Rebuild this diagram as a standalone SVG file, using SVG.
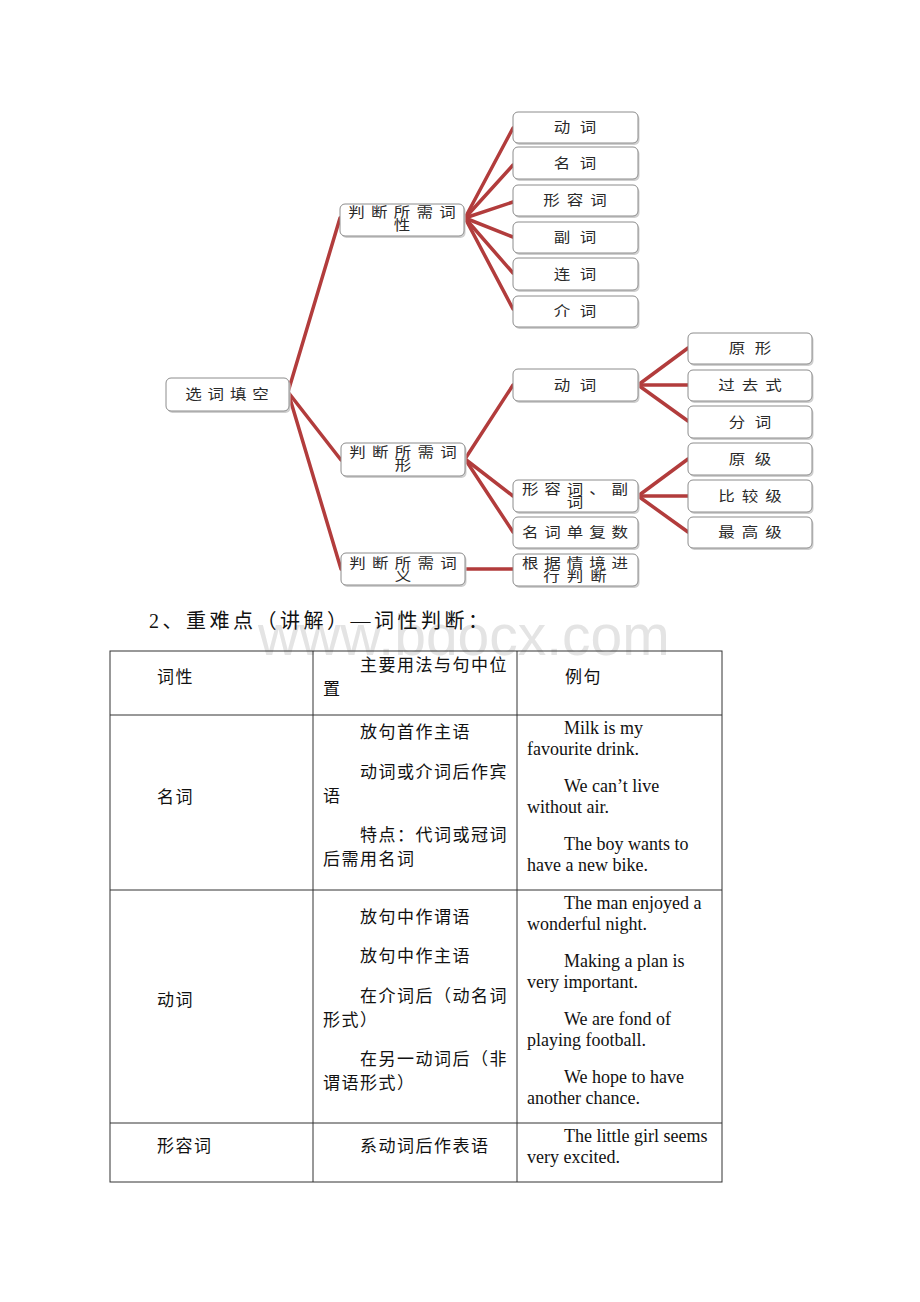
<svg xmlns="http://www.w3.org/2000/svg" width="920" height="1302" viewBox="0 0 920 1302">
<style>
.box{fill:#fff;stroke:#8c8c8c;stroke-width:1}
.sh{fill:#cfcfcf}
.mt{font-family:"Noto Sans CJK SC",sans-serif;font-size:14px;fill:#2a2a2a;text-anchor:middle}
.con{stroke:#b23c3c;stroke-width:3.5;fill:none;stroke-linecap:round}
.tl{stroke:#333;stroke-width:1;fill:none}
.tt{font-family:"Liberation Serif","Noto Sans CJK SC",serif;font-size:17px;letter-spacing:1.5px;fill:#111}
.en{font-family:"Liberation Serif",serif;font-size:18px;fill:#111}
</style>
<rect x="0" y="0" width="920" height="1302" fill="#fff"/>

<g id="connectors">
<line class="con" x1="288" y1="392" x2="340" y2="218"/>
<line class="con" x1="288" y1="392" x2="341" y2="460"/>
<line class="con" x1="288" y1="392" x2="341" y2="569"/>
<line class="con" x1="465" y1="218" x2="513" y2="128"/>
<line class="con" x1="465" y1="218" x2="513" y2="165"/>
<line class="con" x1="465" y1="218" x2="513" y2="202"/>
<line class="con" x1="465" y1="218" x2="513" y2="237"/>
<line class="con" x1="465" y1="218" x2="513" y2="273"/>
<line class="con" x1="465" y1="218" x2="513" y2="309"/>
<line class="con" x1="465" y1="459" x2="513" y2="385"/>
<line class="con" x1="465" y1="459" x2="513" y2="496"/>
<line class="con" x1="465" y1="459" x2="513" y2="532"/>
<line class="con" x1="465" y1="569" x2="513" y2="569"/>
<line class="con" x1="638" y1="385" x2="688" y2="348"/>
<line class="con" x1="638" y1="385" x2="688" y2="385"/>
<line class="con" x1="638" y1="385" x2="688" y2="421"/>
<line class="con" x1="638" y1="496" x2="688" y2="459"/>
<line class="con" x1="638" y1="496" x2="688" y2="496"/>
<line class="con" x1="638" y1="496" x2="688" y2="532"/>
</g>

<g id="n-root"><rect class="sh" x="167.5" y="380" width="123" height="33" rx="5"/><rect class="box" x="166" y="378" width="123" height="33" rx="5"/><text class="mt" transform="translate(227 399) scale(1.18 1)" textLength="71" lengthAdjust="spacing">选词填空</text></g>

<g id="n-cixing"><rect class="sh" x="341.5" y="206" width="124" height="32" rx="5"/><rect class="box" x="340" y="204" width="124" height="32" rx="5"/><text class="mt" transform="translate(402 217) scale(1.18 1)"><tspan x="0" y="0" textLength="91" lengthAdjust="spacing">判断所需词</tspan><tspan x="0" y="13">性</tspan></text></g>
<g id="n-cixing2"><rect class="sh" x="342.5" y="445" width="124" height="33" rx="5"/><rect class="box" x="341" y="443" width="124" height="33" rx="5"/><text class="mt" transform="translate(403 457) scale(1.18 1)"><tspan x="0" y="0" textLength="91" lengthAdjust="spacing">判断所需词</tspan><tspan x="0" y="13">形</tspan></text></g>
<g id="n-ciyi"><rect class="sh" x="342.5" y="555" width="124" height="32" rx="5"/><rect class="box" x="341" y="553" width="124" height="32" rx="5"/><text class="mt" transform="translate(403 568) scale(1.18 1)"><tspan x="0" y="0" textLength="91" lengthAdjust="spacing">判断所需词</tspan><tspan x="0" y="13">义</tspan></text></g>

<g id="n-dongci"><rect class="sh" x="514.5" y="114" width="125" height="31" rx="5"/><rect class="box" x="513" y="112" width="125" height="31" rx="5"/><text class="mt" transform="translate(575 132) scale(1.18 1)" textLength="36" lengthAdjust="spacing">动词</text></g>
<g id="n-mingci"><rect class="sh" x="514.5" y="149" width="125" height="32" rx="5"/><rect class="box" x="513" y="147" width="125" height="32" rx="5"/><text class="mt" transform="translate(575 168) scale(1.18 1)" textLength="36" lengthAdjust="spacing">名词</text></g>
<g id="n-xingrongci"><rect class="sh" x="514.5" y="187" width="125" height="31" rx="5"/><rect class="box" x="513" y="185" width="125" height="31" rx="5"/><text class="mt" transform="translate(575 205) scale(1.18 1)" textLength="54" lengthAdjust="spacing">形容词</text></g>
<g id="n-fuci"><rect class="sh" x="514.5" y="224" width="125" height="31" rx="5"/><rect class="box" x="513" y="222" width="125" height="31" rx="5"/><text class="mt" transform="translate(575 242) scale(1.18 1)" textLength="36" lengthAdjust="spacing">副词</text></g>
<g id="n-lianci"><rect class="sh" x="514.5" y="260" width="125" height="32" rx="5"/><rect class="box" x="513" y="258" width="125" height="32" rx="5"/><text class="mt" transform="translate(575 279) scale(1.18 1)" textLength="36" lengthAdjust="spacing">连词</text></g>
<g id="n-jieci"><rect class="sh" x="514.5" y="298" width="125" height="31" rx="5"/><rect class="box" x="513" y="296" width="125" height="31" rx="5"/><text class="mt" transform="translate(575 316) scale(1.18 1)" textLength="36" lengthAdjust="spacing">介词</text></g>

<g id="n-dongci2"><rect class="sh" x="514.5" y="371" width="125" height="32" rx="5"/><rect class="box" x="513" y="369" width="125" height="32" rx="5"/><text class="mt" transform="translate(575 390) scale(1.18 1)" textLength="36" lengthAdjust="spacing">动词</text></g>
<g id="n-xrcfc"><rect class="sh" x="514.5" y="482" width="125" height="32" rx="5"/><rect class="box" x="513" y="480" width="125" height="32" rx="5"/><text class="mt" transform="translate(575 494) scale(1.18 1)"><tspan x="0" y="0" textLength="90" lengthAdjust="spacing">形容词、副</tspan><tspan x="0" y="13">词</tspan></text></g>
<g id="n-mcdfs"><rect class="sh" x="514.5" y="519" width="125" height="31" rx="5"/><rect class="box" x="513" y="517" width="125" height="31" rx="5"/><text class="mt" transform="translate(575 537) scale(1.18 1)" textLength="90" lengthAdjust="spacing">名词单复数</text></g>
<g id="n-gjqj"><rect class="sh" x="514.5" y="556" width="125" height="32" rx="5"/><rect class="box" x="513" y="554" width="125" height="32" rx="5"/><text class="mt" transform="translate(575 568) scale(1.18 1)"><tspan x="0" y="0" textLength="90" lengthAdjust="spacing">根据情境进</tspan><tspan x="0" y="13" textLength="54" lengthAdjust="spacing">行判断</tspan></text></g>

<g id="n-yuanxing"><rect class="sh" x="689.5" y="335" width="124" height="31" rx="5"/><rect class="box" x="688" y="333" width="124" height="31" rx="5"/><text class="mt" transform="translate(750 353) scale(1.18 1)" textLength="36" lengthAdjust="spacing">原形</text></g>
<g id="n-guoqushi"><rect class="sh" x="689.5" y="372" width="124" height="31" rx="5"/><rect class="box" x="688" y="370" width="124" height="31" rx="5"/><text class="mt" transform="translate(750 390) scale(1.18 1)" textLength="54" lengthAdjust="spacing">过去式</text></g>
<g id="n-fenci"><rect class="sh" x="689.5" y="408" width="124" height="32" rx="5"/><rect class="box" x="688" y="406" width="124" height="32" rx="5"/><text class="mt" transform="translate(750 427) scale(1.18 1)" textLength="36" lengthAdjust="spacing">分词</text></g>
<g id="n-yuanji"><rect class="sh" x="689.5" y="445" width="124" height="32" rx="5"/><rect class="box" x="688" y="443" width="124" height="32" rx="5"/><text class="mt" transform="translate(750 464) scale(1.18 1)" textLength="36" lengthAdjust="spacing">原级</text></g>
<g id="n-bijiaoji"><rect class="sh" x="689.5" y="482" width="124" height="32" rx="5"/><rect class="box" x="688" y="480" width="124" height="32" rx="5"/><text class="mt" transform="translate(750 501) scale(1.18 1)" textLength="54" lengthAdjust="spacing">比较级</text></g>
<g id="n-zuigaoji"><rect class="sh" x="689.5" y="519" width="124" height="31" rx="5"/><rect class="box" x="688" y="517" width="124" height="31" rx="5"/><text class="mt" transform="translate(750 537) scale(1.18 1)" textLength="54" lengthAdjust="spacing">最高级</text></g>

<text x="258" y="655" font-family="Liberation Sans, sans-serif" font-size="57" fill="#e4e4e4">www.bdocx.com</text>

<g id="heading"><text x="149" y="628" font-family="Liberation Serif, 'Noto Sans CJK SC', serif" font-size="20" letter-spacing="3.5" fill="#111">2、重难点（讲解）—词性判断：</text></g>

<g id="table">
<rect class="tl" x="110" y="651" width="612" height="531"/>
<line class="tl" x1="313" y1="651" x2="313" y2="1182"/>
<line class="tl" x1="517" y1="651" x2="517" y2="1182"/>
<line class="tl" x1="110" y1="715" x2="722" y2="715"/>
<line class="tl" x1="110" y1="890" x2="722" y2="890"/>
<line class="tl" x1="110" y1="1123" x2="722" y2="1123"/>

<text class="tt" x="157" y="683">词性</text>
<text class="tt" x="360" y="671">主要用法与句中位</text>
<text class="tt" x="323" y="695">置</text>
<text class="tt" x="565" y="683">例句</text>

<text class="tt" x="157" y="803">名词</text>
<text class="tt" x="360" y="738">放句首作主语</text>
<text class="tt" x="360" y="778">动词或介词后作宾</text>
<text class="tt" x="323" y="802">语</text>
<text class="tt" x="360" y="841">特点：代词或冠词</text>
<text class="tt" x="323" y="865">后需用名词</text>
<text class="en" x="564" y="734">Milk is my</text>
<text class="en" x="527" y="755">favourite drink.</text>
<text class="en" x="564" y="792">We can’t live</text>
<text class="en" x="527" y="813">without air.</text>
<text class="en" x="564" y="850">The boy wants to</text>
<text class="en" x="527" y="871">have a new bike.</text>

<text class="tt" x="157" y="1006">动词</text>
<text class="tt" x="360" y="923">放句中作谓语</text>
<text class="tt" x="360" y="962">放句中作主语</text>
<text class="tt" x="360" y="1002">在介词后（动名词</text>
<text class="tt" x="323" y="1026">形式）</text>
<text class="tt" x="360" y="1065">在另一动词后（非</text>
<text class="tt" x="323" y="1089">谓语形式）</text>
<text class="en" x="564" y="909">The man enjoyed a</text>
<text class="en" x="527" y="930">wonderful night.</text>
<text class="en" x="564" y="967">Making a plan is</text>
<text class="en" x="527" y="988">very important.</text>
<text class="en" x="564" y="1025">We are fond of</text>
<text class="en" x="527" y="1046">playing football.</text>
<text class="en" x="564" y="1083">We hope to have</text>
<text class="en" x="527" y="1104">another chance.</text>

<text class="tt" x="157" y="1152">形容词</text>
<text class="tt" x="360" y="1152">系动词后作表语</text>
<text class="en" x="564" y="1142">The little girl seems</text>
<text class="en" x="527" y="1163">very excited.</text>
</g>
</svg>
